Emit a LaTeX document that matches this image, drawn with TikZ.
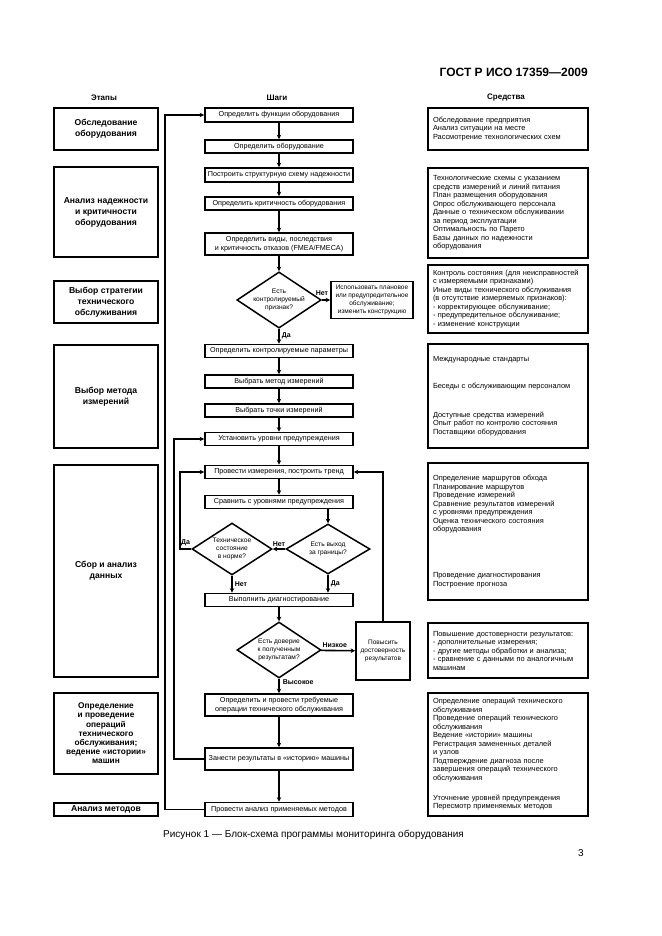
\documentclass[tikz,border=0pt]{standalone}
\usepackage{fontspec}
\setmainfont{Liberation Sans}
\usetikzlibrary{shapes.geometric, arrows.meta}
\newcommand{\myfs}[2]{\fontsize{#1}{#2}\selectfont}
\begin{document}
\begin{tikzpicture}[x=1pt,y=-1pt,
  stage/.style={draw, line width=1.7pt, minimum width=104pt, align=center, font=\bfseries\myfs{8.6}{11}, inner sep=0pt},
  stepbox/.style={draw, line width=1.7pt, minimum width=148pt, align=center, font=\myfs{7.2}{8.7}, inner sep=0pt},
  means/.style={draw, line width=1.7pt, minimum width=160pt, text width=150pt, inner xsep=5pt, inner ysep=0pt, align=left, font=\myfs{7.4}{8.5}},
  dec/.style={draw, diamond, shape aspect=1.5, line width=1.5pt, inner sep=0pt, align=center, font=\myfs{6.6}{8}},
  arr/.style={line width=1.6pt, -{Stealth[length=4.5pt,width=4.5pt]}},
  lbl/.style={font=\bfseries\myfs{7}{8}, inner sep=0pt},
  colhead/.style={font=\bfseries\myfs{8}{10}, inner sep=0pt}]
\useasboundingbox (0,0) rectangle (661,936);
\fill[white] (0,0) rectangle (661,936);

\node[anchor=east, font=\bfseries\myfs{12}{14}, inner sep=0pt] (hdr) at (588,72) {ГОСТ Р ИСО 17359—2009};

\node[colhead] (ch1) at (104,98) {Этапы};
\node[colhead] (ch2) at (277,98) {Шаги};
\node[colhead] (ch3) at (506,98) {Средства};

% stages
\node[stage, minimum height=42pt] (s1) at (106,129) {Обследование\\оборудования};
\node[stage, minimum height=90pt] (s2) at (106,212) {Анализ надежности\\и критичности\\оборудования};
\node[stage, minimum height=42pt] (s3) at (106,302) {Выбор стратегии\\технического\\обслуживания};
\node[stage, minimum height=103pt] (s4) at (106,396.5) {Выбор метода\\измерений};
\node[stage, minimum height=212pt] (s5) at (106,571) {Сбор и анализ\\данных};
\node[stage, minimum height=81pt, font=\bfseries\myfs{8.3}{9.2}] (s6) at (106,733.5) {Определение\\и проведение\\операций\\технического\\обслуживания;\\ведение «истории»\\машин};
\node[stage, minimum height=13pt] (s7) at (106,809.5) {Анализ методов};

% steps
\node[stepbox, minimum height=14pt] (p1) at (279,115) {Определить функции оборудования};
\node[stepbox, minimum height=13pt] (p2) at (279,146.5) {Определить оборудование};
\node[stepbox, minimum height=14pt] (p3) at (279,175) {Построить структурную схему надежности};
\node[stepbox, minimum height=13pt] (p4) at (279,203.5) {Определить критичность оборудования};
\node[stepbox, minimum height=22pt] (p5) at (279,244) {Определить виды, последствия\\и критичность отказов (FMEA/FMECA)};
\node[dec, minimum width=84pt, minimum height=56pt] (d1) at (279,300) {Есть\\контролируемый\\признак?};
\node[stepbox, minimum width=82pt, minimum height=37pt, font=\myfs{6.5}{8}] (alt) at (372,300) {Использовать плановое\\или предупредительное\\обслуживание;\\изменить конструкцию};
\node[stepbox, minimum height=13pt] (p6) at (279,351) {Определить контролируемые параметры};
\node[stepbox, minimum height=13pt] (p7) at (279,381.5) {Выбрать метод измерений};
\node[stepbox, minimum height=13pt] (p8) at (279,410.5) {Выбрать точки измерений};
\node[stepbox, minimum height=13pt] (p9) at (279,439) {Установить уровни предупреждения};
\node[stepbox, minimum height=13pt] (p10) at (279,472) {Провести измерения, построить тренд};
\node[stepbox, minimum height=13pt] (p11) at (279,502) {Сравнить с уровнями предупреждения};
\node[dec, minimum width=80pt, minimum height=52pt] (d2) at (232,549) {Техническое\\состояние\\в норме?};
\node[dec, minimum width=84pt, minimum height=50pt] (d3) at (328,549) {Есть выход\\за границы?};
\node[stepbox, minimum height=13pt] (p12) at (279,600) {Выполнить диагностирование};
\node[dec, minimum width=84pt, minimum height=56pt] (d4) at (279,650) {Есть доверие\\к полученным\\результатам?};
\node[stepbox, minimum width=54pt, minimum height=58pt, font=\myfs{6.5}{8}] (imp) at (383,651) {Повысить\\достоверность\\результатов};
\node[stepbox, minimum height=22pt] (p13) at (279,705) {Определить и провести требуемые\\операции технического обслуживания};
\node[stepbox, minimum height=22pt] (p14) at (279,759) {Занести результаты в «историю» машины};
\node[stepbox, minimum height=14pt] (p15) at (279,809.5) {Провести анализ применяемых методов};

% means
\node[means, minimum height=42pt] (m1) at (508,129) {Обследование предприятия\\Анализ ситуации на месте\\Рассмотрение технологических схем};
\node[means, minimum height=90pt] (m2) at (508,213) {Технологические схемы с указанием\\средств измерений и линий питания\\План размещения оборудования\\Опрос обслуживающего персонала\\Данные о техническом обслуживании\\за период эксплуатации\\Оптимальность по Парето\\Базы данных по надежности\\оборудования};
\node[means, minimum height=68pt] (m3) at (508,299) {Контроль состояния (для неисправностей\\с измеряемыми признаками)\\Иные виды технического обслуживания\\(в отсутствие измеряемых признаков):\\- корректирующее обслуживание;\\- предупредительное обслуживание;\\- изменение конструкции};
\node[means, minimum height=104pt] (m4) at (508,396) {Международные стандарты\\[18.5pt]Беседы с обслуживающим персоналом\\[20.5pt]Доступные средства измерений\\Опыт работ по контролю состояния\\Поставщики оборудования};
\node[means, minimum height=137pt] (m5) at (508,531.5) {Определение маршрутов обхода\\Планирование маршрутов\\Проведение измерений\\Сравнение результатов измерений\\с уровнями предупреждения\\Оценка технического состояния\\оборудования\\[37.5pt]Проведение диагностирования\\Построение прогноза};
\node[means, minimum height=55pt] (m6) at (508,650.5) {Повышение достоверности результатов:\\- дополнительные измерения;\\- другие методы обработки и анализа;\\- сравнение с данными по аналогичным\\машинам};
\node[means, minimum height=123pt] (m7) at (508,754.5) {Определение операций технического\\обслуживания\\Проведение операций технического\\обслуживания\\Ведение «истории» машины\\Регистрация замененных деталей\\и узлов\\Подтверждение диагноза после\\завершения операций технического\\обслуживания\\[11.5pt]Уточнение уровней предупреждения\\Пересмотр применяемых методов};

% loop coordinates
\coordinate (l1) at (165,0);
\coordinate (l2) at (174,0);
\coordinate (l3) at (180,0);

% connectors
\draw[arr] (p1) -- (p2);
\draw[arr] (p2) -- (p3);
\draw[arr] (p3) -- (p4);
\draw[arr] (p4) -- (p5);
\draw[arr] (p5) -- (d1);
\draw[arr] (d1) -- (alt);
\node[lbl] (n1) at (322,293) {Нет};
\draw[arr] (d1) -- node[lbl, right=2pt, pos=0.45] (y1) {Да} (p6);
\draw[arr] (p6) -- (p7);
\draw[arr] (p7) -- (p8);
\draw[arr] (p8) -- (p9);
\draw[arr] (p9) -- (p10);
\draw[arr] (p10) -- (p11);
\draw[arr] (p11.south -| d3.north) -- (d3.north);
\draw[arr] (d3.west) -- node[lbl, above=2pt] (n3) {Нет} (d2.east);
\draw[arr] (d2.south) -- node[lbl, right=2pt, pos=0.5] (n2) {Нет} (d2.south |- p12.north);
\draw[arr] (d3.south) -- node[lbl, right=2pt, pos=0.5] (y3) {Да} (d3.south |- p12.north);
\draw[arr] (d2.west) -- node[lbl, above=2pt] (y2) {Да} (d2.west -| l3) |- (p10.west);
\draw[arr] (p12) -- (d4);
\draw[arr] (d4) -- node[lbl, above=2pt, pos=0.4] (lo) {Низкое} (imp);
\draw[arr] (imp.north) |- (p10.east);
\draw[arr] (d4) -- node[lbl, right=3pt, pos=0.2] (hi) {Высокое} (p13);
\draw[arr] (p13) -- (p14);
\draw[arr] (p14) -- (p15);
\draw[arr] (p14.west) -- (p14.west -| l2) |- (p9.west);
\draw[arr] (p15.west) -- (p15.west -| l1) |- (p1.west);

\node[anchor=west, font=\myfs{10}{12}, inner sep=0pt] (cap) at (163,835) {Рисунок 1 — Блок-схема программы мониторинга оборудования};
\node[font=\myfs{10}{12}, inner sep=0pt] (pg) at (581,853) {3};
\end{tikzpicture}
\end{document}
